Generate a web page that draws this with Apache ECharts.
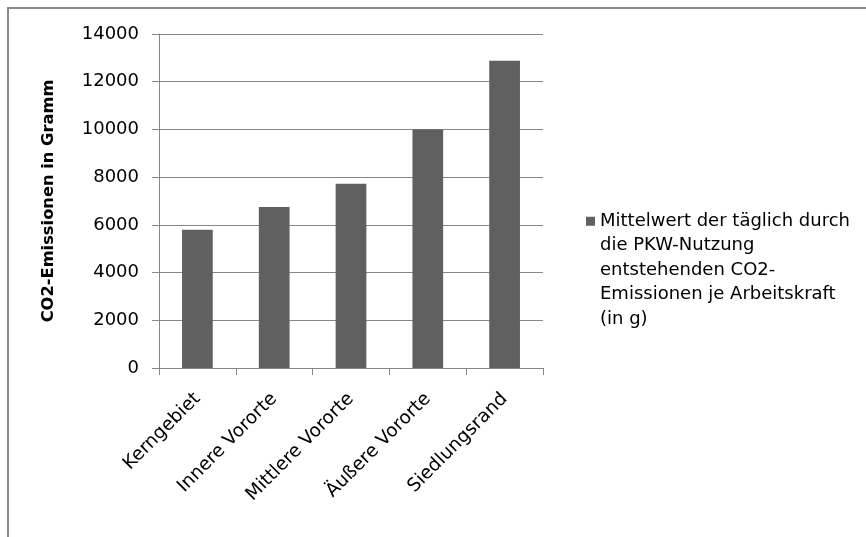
<!DOCTYPE html>
<html>
<head>
<meta charset="utf-8">
<script src="https://cdn.jsdelivr.net/npm/echarts@6/dist/echarts.min.js"></script>
<style>
  html, body { margin: 0; padding: 0; background: #ffffff; }
  #chart { width: 866px; height: 537px; }
</style>
</head>
<body>
<div id="chart"></div>
<script>
// Stadtzonen (Kategorien der x-Achse)
const categories = ['Kerngebiet', 'Innere Vororte', 'Mittlere Vororte', 'Äußere Vororte', 'Siedlungsrand'];
// Mittelwert der täglichen CO2-Emissionen je Arbeitskraft (g)
const emissions = [5800, 6750, 7720, 10000, 12880];
const seriesName = 'Mittelwert der täglich durch\ndie PKW-Nutzung\nentstehenden CO2-\nEmissionen je Arbeitskraft\n(in g)';
const yAxisTitle = 'CO2-Emissionen in Gramm';

const FONT = 'DejaVu Sans';
const LINE = '#878787';
const LEGEND_LINE_HEIGHT = 24.5;
const LEGEND_LINES = 5;
// Legend icon: small square at the top of a tall, otherwise empty box,
// so the square sits beside the first line of the multi-line label.
const LEGEND_BOX_H = 9 + (LEGEND_LINES - 1) * LEGEND_LINE_HEIGHT;
const legendIcon = 'path://M0,0L9,0L9,9L0,9Z M0,' + LEGEND_BOX_H + 'L0,' + LEGEND_BOX_H;

const chart = echarts.init(document.getElementById('chart'), null, { renderer: 'canvas' });

chart.setOption({
  animation: false,
  backgroundColor: '#ffffff',
  graphic: [{
    type: 'rect',
    shape: { x: 8, y: 8, width: 1000, height: 1000 },
    style: { fill: 'none', stroke: '#8a8a8a', lineWidth: 2 },
    silent: true
  }],
  grid: { left: 159, top: 34, right: 323, bottom: 169, containLabel: false },
  legend: {
    left: 586,
    top: 209,
    padding: 0,
    icon: legendIcon,
    itemWidth: 9,
    itemHeight: LEGEND_BOX_H,
    itemGap: 0,
    selectedMode: false,
    textStyle: {
      fontFamily: FONT,
      fontSize: 18,
      color: '#000000',
      lineHeight: LEGEND_LINE_HEIGHT
    },
    data: [seriesName]
  },
  xAxis: {
    type: 'category',
    data: categories,
    axisLine: { lineStyle: { color: LINE, width: 1 } },
    axisTick: { show: true, length: 7, alignWithLabel: false, lineStyle: { color: LINE } },
    axisLabel: {
      rotate: 45,
      interval: 0,
      margin: 28,
      fontFamily: FONT,
      fontSize: 18.5,
      color: '#000000'
    },
    splitLine: { show: false }
  },
  yAxis: {
    type: 'value',
    min: 0,
    max: 14000,
    interval: 2000,
    name: yAxisTitle,
    nameLocation: 'middle',
    nameGap: 102,
    nameTextStyle: { fontFamily: FONT, fontSize: 16.3, fontWeight: 'bold', color: '#000000' },
    axisLine: { show: true, lineStyle: { color: LINE, width: 1 } },
    axisTick: { show: true, length: 7, lineStyle: { color: LINE } },
    axisLabel: {
      margin: 20,
      fontFamily: FONT,
      fontSize: 18,
      color: '#000000',
      formatter: function (v) { return String(v); }
    },
    splitLine: { show: true, lineStyle: { color: LINE, width: 1 } }
  },
  series: [{
    name: seriesName,
    type: 'bar',
    data: emissions,
    barWidth: '40%',
    itemStyle: { color: '#606060' }
  }]
});
</script>
</body>
</html>
